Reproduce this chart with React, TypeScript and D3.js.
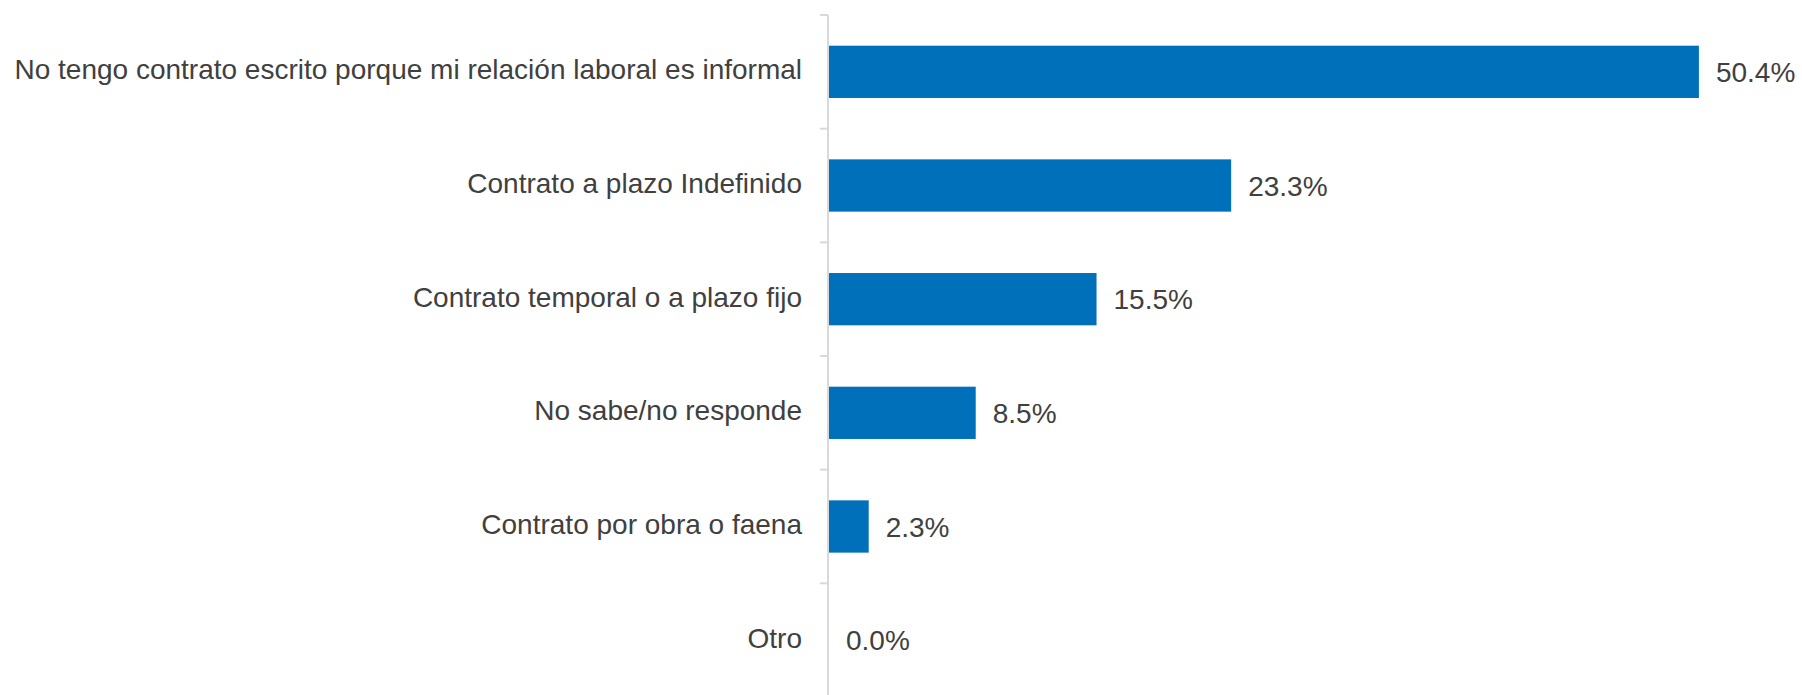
import React, { useEffect, useRef } from 'react';
import * as d3 from 'd3';

const categories = [
  'No tengo contrato escrito porque mi relación laboral es informal',
  'Contrato a plazo Indefinido',
  'Contrato temporal o a plazo fijo',
  'No sabe/no responde',
  'Contrato por obra o faena',
  'Otro',
];
const values = [50.4, 23.3, 15.5, 8.5, 2.3, 0.0];

const width = 1802;
const height = 695;

const App = () => {
  const chartRef = useRef<HTMLDivElement>(null);

  useEffect(() => {
    drawChart();
  }, []);

  const drawChart = () => {
    const axisX = 828;
    const top = 15;
    const bottom = 697;

    d3.select(chartRef.current).select('svg').remove();

    const svg = d3.select(chartRef.current)
      .append('svg')
      .attr('width', width)
      .attr('height', height)
      .style('position', 'absolute')
      .style('left', 0)
      .style('top', 0)
      .style('font-family', '"Liberation Sans", Arial, sans-serif');

    const y = d3.scaleBand()
      .domain(categories)
      .range([top, bottom])
      .paddingInner(0.54)
      .paddingOuter(0.27);

    const x = d3.scaleLinear()
      .domain([0, 55])
      .range([axisX + 1, axisX + 1 + 55 * 17.26]);

    // axis line + ticks at band boundaries
    const step = (bottom - top) / categories.length;
    svg.append('line')
      .attr('x1', axisX)
      .attr('x2', axisX)
      .attr('y1', top)
      .attr('y2', height)
      .style('stroke', '#d9d9d9')
      .style('stroke-width', 2);

    d3.range(categories.length + 1).forEach(i => {
      svg.append('line')
        .attr('x1', axisX - 8)
        .attr('x2', axisX)
        .attr('y1', top + i * step)
        .attr('y2', top + i * step)
        .style('stroke', '#d9d9d9')
        .style('stroke-width', 2);
    });

    categories.forEach((cat, i) => {
      const cy = (y(cat) ?? 0) + y.bandwidth() / 2;

      svg.append('rect')
        .attr('x', x(0))
        .attr('y', y(cat) ?? 0)
        .attr('width', x(values[i]) - x(0))
        .attr('height', y.bandwidth())
        .style('fill', '#0070BA');

      svg.append('text')
        .attr('x', axisX - 26)
        .attr('y', cy + 7.5)
        .attr('text-anchor', 'end')
        .style('font-size', '28px')
        .style('fill', '#404040')
        .text(cat);

      svg.append('text')
        .attr('x', x(values[i]) + 17)
        .attr('y', cy + 10)
        .style('font-size', '28px')
        .style('fill', '#404040')
        .text(values[i].toFixed(1) + '%');
    });
  };

  return <div ref={chartRef}></div>;
};

export default App;
